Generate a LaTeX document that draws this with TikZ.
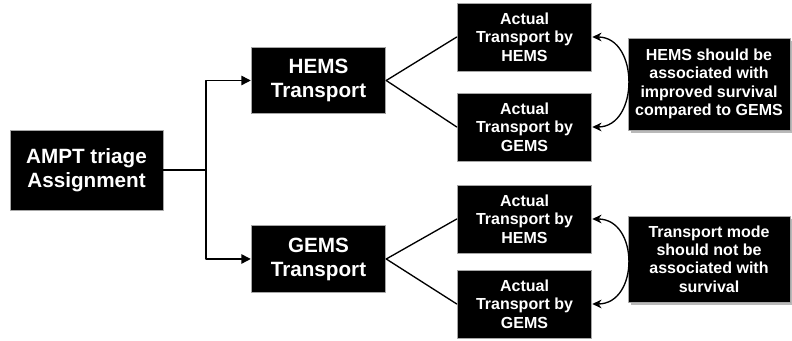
\documentclass[tikz,border=0pt]{standalone}
\usepackage{fontspec}
\setmainfont{Liberation Sans}
\usetikzlibrary{arrows.meta}
\usetikzlibrary{shadows}

\tikzset{
  bigbox/.style={fill=black, draw=gray!70, line width=0.6pt, text=white, align=center,
    font=\fontsize{15.5}{18}\selectfont\bfseries, inner sep=0pt},
  smallbox/.style={fill=black, draw=gray!70, line width=0.6pt, text=white, align=center,
    font=\fontsize{12}{13.75}\selectfont\bfseries, inner sep=0pt,
    minimum width=101pt, minimum height=51pt},
  notebox/.style={smallbox, minimum width=121.5pt,
    drop shadow={shadow xshift=2.5pt, shadow yshift=-2.5pt, fill=gray!55, opacity=1}},
  link/.style={line width=1pt}
}

\begin{document}
\begin{tikzpicture}[line cap=round,line join=round,x=0.75pt,y=0.75pt,>={Triangle[length=7pt,width=7pt]}]
\useasboundingbox (0,0) rectangle (792,341);
% left column
\node[bigbox, minimum width=114.75pt, minimum height=60pt] (ampt) at (86.5,171) {AMPT triage\\Assignment};
\node[bigbox, minimum width=101pt, minimum height=50pt] (hemsT) at (318.5,260.5) {HEMS\\Transport};
\node[bigbox, minimum width=101pt, minimum height=50pt] (gemsT) at (318.5,82) {GEMS\\Transport};
% actual transport
\node[smallbox] (hemsH) at (524.5,304) {Actual\\Transport by\\HEMS};
\node[smallbox] (hemsG) at (524.5,214) {Actual\\Transport by\\GEMS};
\node[smallbox] (gemsH) at (524.5,122) {Actual\\Transport by\\HEMS};
\node[smallbox] (gemsG) at (524.5,37) {Actual\\Transport by\\GEMS};
% hypotheses
\node[notebox, minimum height=69pt] (noteA) at (709,257) {HEMS should be\\associated with\\improved survival\\compared to GEMS};
\node[notebox, minimum height=64.5pt] (noteB) at (709,82) {Transport mode\\should not be\\associated with\\survival};

\coordinate (split) at (206,171);
\draw[link] (ampt.east) -- (split);
\draw[link,->] (split) |- (hemsT.west);
\draw[link,->] (split) |- (gemsT.west);
\foreach \a/\b in {hemsT/hemsH,hemsT/hemsG,gemsT/gemsH,gemsT/gemsG}
\draw[link] (\a.east) -- (\b.west);
\draw[link,<->,>={Stealth[length=7pt,width=6.5pt]}] (hemsH.east) .. controls +(47,0) and +(47,0) .. (hemsG.east);
\draw[link,<->,>={Stealth[length=7pt,width=6.5pt]}] (gemsH.east) .. controls +(47,0) and +(47,0) .. (gemsG.east);
\end{tikzpicture}
\end{document}
